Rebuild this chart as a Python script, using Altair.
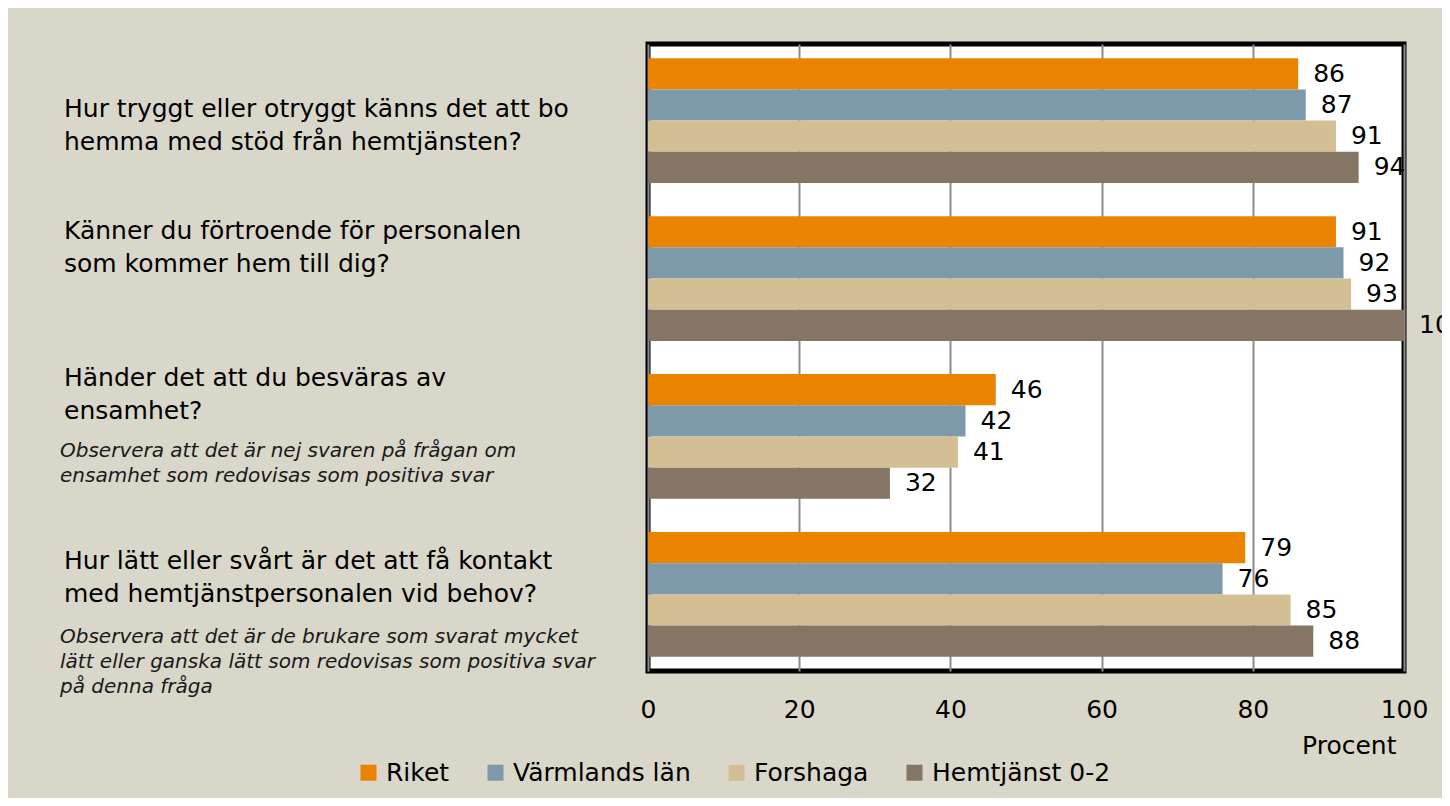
import altair as alt
import pandas as pd

# ---- data ----
question_ids = ["q1", "q2", "q3", "q4"]
questions = [
    "Hur tryggt eller otryggt känns det att bo\nhemma med stöd från hemtjänsten?",
    "Känner du förtroende för personalen\nsom kommer hem till dig?",
    "Händer det att du besväras av\nensamhet?",
    "Hur lätt eller svårt är det att få kontakt\nmed hemtjänstpersonalen vid behov?",
]
notes = [
    "",
    "",
    "Observera att det är nej svaren på frågan om\nensamhet som redovisas som positiva svar",
    "Observera att det är de brukare som svarat mycket\nlätt eller ganska lätt som redovisas som positiva svar\npå denna fråga",
]
series = ["Riket", "Värmlands län", "Forshaga", "Hemtjänst 0-2"]
riket = [86, 91, 46, 79]
varmland = [87, 92, 42, 76]
forshaga = [91, 93, 41, 85]
hemtjanst = [94, 100, 32, 88]
colors = ["#E98300", "#7D99AA", "#D4BF95", "#857565"]
tick_values = [0, 20, 40, 60, 80, 100]

rows = []
for s, vals in zip(series, [riket, varmland, forshaga, hemtjanst]):
    for qid, v in zip(question_ids, vals):
        rows.append({"qid": qid, "series": s, "value": v})
df = pd.DataFrame(rows)
qdf = pd.DataFrame({"qid": question_ids, "question": questions, "note": notes})

FONT = "DejaVu Sans"

y_enc = alt.Y("qid:N", sort=question_ids,
              scale=alt.Scale(paddingInner=0.21, paddingOuter=0.09), axis=None)
yoff = alt.YOffset("series:N", sort=series, scale=alt.Scale(paddingInner=0, paddingOuter=0))
x_enc = alt.X(
    "value:Q",
    scale=alt.Scale(domain=[0, 100], nice=False),
    axis=alt.Axis(
        values=tick_values, grid=True, gridColor="#8C8C8C", gridWidth=2,
        domain=False, ticks=False, labelFlush=False, labelOverlap=False,
        labelFont=FONT, labelFontSize=25, labelColor="black", labelPadding=26,
        title="Procent", titleFont=FONT, titleFontSize=25, titleFontWeight="normal",
        titleColor="black", titleX=748, titleY=74, titleAlign="right",
        titleBaseline="middle", titleAngle=0,
    ),
)

bars = alt.Chart(df).mark_bar().encode(
    y=y_enc,
    yOffset=yoff,
    x=x_enc,
    color=alt.Color(
        "series:N",
        scale=alt.Scale(domain=series, range=colors),
        legend=alt.Legend(
            title=None, orient="none", legendX=-292, legendY=716, padding=0,
            direction="horizontal", symbolType="square", symbolSize=256,
            symbolStrokeWidth=0, symbolOpacity=1, labelFont=FONT,
            labelFontSize=25, labelColor="black", labelOffset=5, columnPadding=33,
            labelLimit=400,
        ),
    ),
)

labels = alt.Chart(df).mark_text(
    align="left", baseline="middle", dx=15, fontSize=25, font=FONT, color="black"
).encode(y=y_enc, yOffset=yoff, x=x_enc, text="value:Q")

# vertical shift of the first line of each text block, relative to group centre
q_dy = [-11.5, -47.5, -58.5, -33.5]
n_dy = [0, 0, 14.5, 42.5]

layers = [bars, labels]
for qid, qd, nd, note in zip(question_ids, q_dy, n_dy, notes):
    layers.append(
        alt.Chart(qdf).transform_filter(alt.datum.qid == qid).mark_text(
            align="left", baseline="middle", dy=qd, fontSize=25, font=FONT,
            lineHeight=33, lineBreak="\n", color="black"
        ).encode(y=y_enc, x=alt.value(-584), text="question:N")
    )
    if note:
        layers.append(
            alt.Chart(qdf).transform_filter(alt.datum.qid == qid).mark_text(
                align="left", baseline="middle", dy=nd, fontSize=20, font=FONT,
                fontStyle="italic", lineHeight=25, lineBreak="\n", color="#1a1a1a"
            ).encode(y=y_enc, x=alt.value(-588), text="note:N")
        )

chart = alt.layer(*layers).properties(
    width=756, height=627,
    padding={"left": 640, "top": 36, "right": 38, "bottom": 127},
    autosize=alt.AutoSizeParams(type="none"),
    background="#D9D6CA",
).configure_view(fill="white", stroke="black", strokeWidth=5)

chart.save("out.html", embed_options={"renderer": "svg", "actions": False})
